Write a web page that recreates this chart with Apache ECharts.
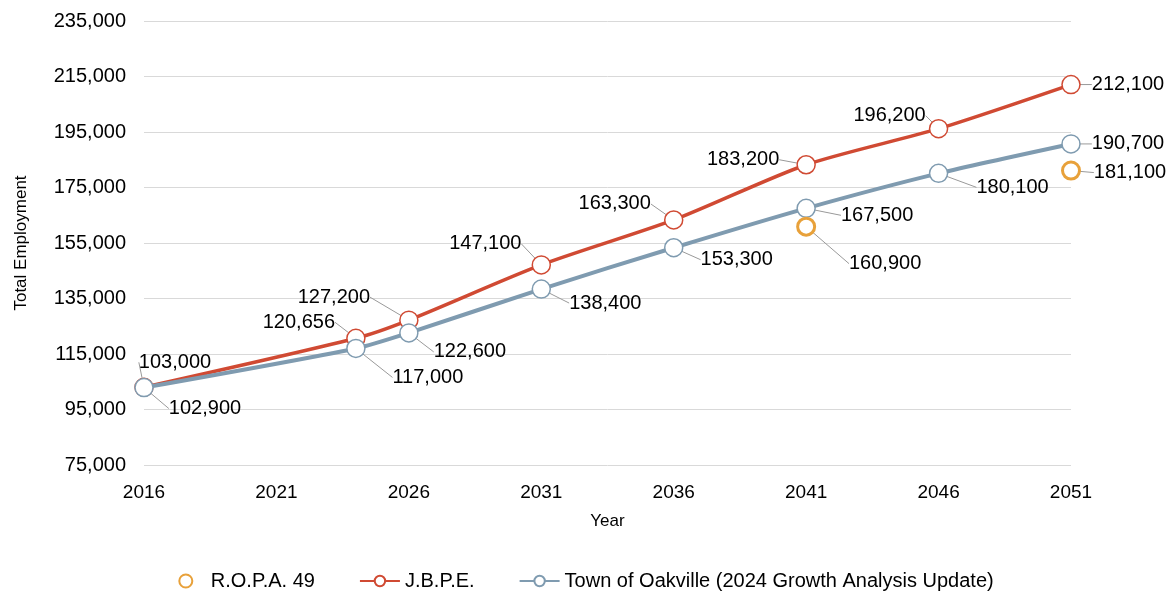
<!DOCTYPE html>
<html>
<head>
<meta charset="utf-8">
<script src="https://cdn.jsdelivr.net/npm/echarts@6/dist/echarts.min.js"></script>
<style>html,body{margin:0;padding:0;background:#fff}#c{width:1172px;height:592px}</style>
</head>
<body>
<div id="c"></div>
<script>
// ---- data ----
var years = [2016, 2024, 2026, 2031, 2036, 2041, 2046, 2051];
var jbpe = [103000, 120656, 127200, 147100, 163300, 183200, 196200, 212100];
var oakville = [102900, 117000, 122600, 138400, 153300, 167500, 180100, 190700];
var ropaYears = [2041, 2051];
var ropa = [160900, 181100];
var seriesNames = ['R.O.P.A. 49', 'J.B.P.E.', 'Town of Oakville (2024 Growth Analysis Update)'];

// ---- label placement (pixel offsets of label centre from its point) ----
var jbpeOff = [[31,-25],[-57,-16],[-75,-23],[-56,-21],[-59,-16],[-63,-5],[-49,-13],[57,0]];
var oakOff = [[61,21],[72,29],[61,19],[64,14],[63,12],[71,7],[74,14],[57,0]];
var ropaOff = [[79,37],[59,2]];

var FONT = 'Liberation Sans, Arial, sans-serif';
function fmt(v){ return Number(v).toLocaleString('en-US'); }
function pairs(xs, ys){ return xs.map(function(x,i){ return [x, ys[i]]; }); }
function layoutFrom(off){
  return function(p){
    var o = off[p.dataIndex] || [0,0];
    var r = p.rect;
    var cx = r.x + r.width/2, cy = r.y + r.height/2;
    return { x: cx + o[0], y: cy + o[1], align: 'center', verticalAlign: 'middle' };
  };
}
var labelCommon = {
  show: true, position: 'inside', color: '#000', fontSize: 20, fontFamily: FONT,
  formatter: function(p){ return fmt(p.value[1]); }
};
var guide = { show: true, lineStyle: { color: '#999999', width: 1, opacity: 1 } };

var chart = echarts.init(document.getElementById('c'), null, {renderer: 'canvas'});
chart.setOption({
  animation: false,
  color: ['#e8a13a', '#d04a33', '#7f9bb0'],
  grid: { left: 144, right: 101, top: 21, bottom: 127, outerBoundsMode: 'none', containLabel: false },
  xAxis: {
    type: 'value', min: 2016, max: 2051, interval: 5,
    name: 'Year', nameLocation: 'middle', nameGap: 48,
    nameTextStyle: { color: '#000', fontSize: 17, fontFamily: FONT },
    axisLine: { show: false }, axisTick: { show: false },
    axisLabel: { color: '#000', fontSize: 19, fontFamily: FONT, margin: 18, formatter: function(v){ return String(v); } },
    splitLine: { show: false }
  },
  yAxis: {
    type: 'value', min: 75000, max: 235000, interval: 20000,
    name: 'Total Employment', nameLocation: 'middle', nameGap: 114, nameRotate: 90,
    nameTextStyle: { color: '#000', fontSize: 17, fontFamily: FONT },
    axisLine: { show: false }, axisTick: { show: false },
    axisLabel: { color: '#000', fontSize: 20, fontFamily: FONT, margin: 18, formatter: fmt },
    splitLine: { lineStyle: { color: '#d9d9d9', width: 1 } }
  },
  legend: {
    top: 566, left: 'center', itemGap: 44, itemWidth: 40, itemHeight: 13,
    textStyle: { color: '#000', fontSize: 20, fontFamily: FONT },
    data: seriesNames
  },
  series: [
    {
      name: seriesNames[1], type: 'line', smooth: 0.25, z: 2,
      data: pairs(years, jbpe),
      symbol: 'circle', symbolSize: 18,
      lineStyle: { width: 3.5, color: '#d04a33' },
      itemStyle: { color: '#fff', borderColor: '#d04a33', borderWidth: 1.5 },
      label: labelCommon, labelLine: guide, labelLayout: layoutFrom(jbpeOff)
    },
    {
      name: seriesNames[2], type: 'line', smooth: 0.25, z: 3,
      data: pairs(years, oakville),
      symbol: 'circle', symbolSize: 18,
      lineStyle: { width: 4, color: '#7f9bb0' },
      itemStyle: { color: '#fff', borderColor: '#7f9bb0', borderWidth: 1.5 },
      label: labelCommon, labelLine: guide, labelLayout: layoutFrom(oakOff)
    },
    {
      name: seriesNames[0], type: 'scatter', z: 4,
      data: pairs(ropaYears, ropa),
      symbol: 'circle', symbolSize: 17,
      itemStyle: { color: '#fff', borderColor: '#e8a13a', borderWidth: 3, opacity: 1 },
      label: Object.assign({}, labelCommon, { opacity: 1 }), labelLine: guide, labelLayout: layoutFrom(ropaOff)
    }
  ]
});
</script>
</body>
</html>
